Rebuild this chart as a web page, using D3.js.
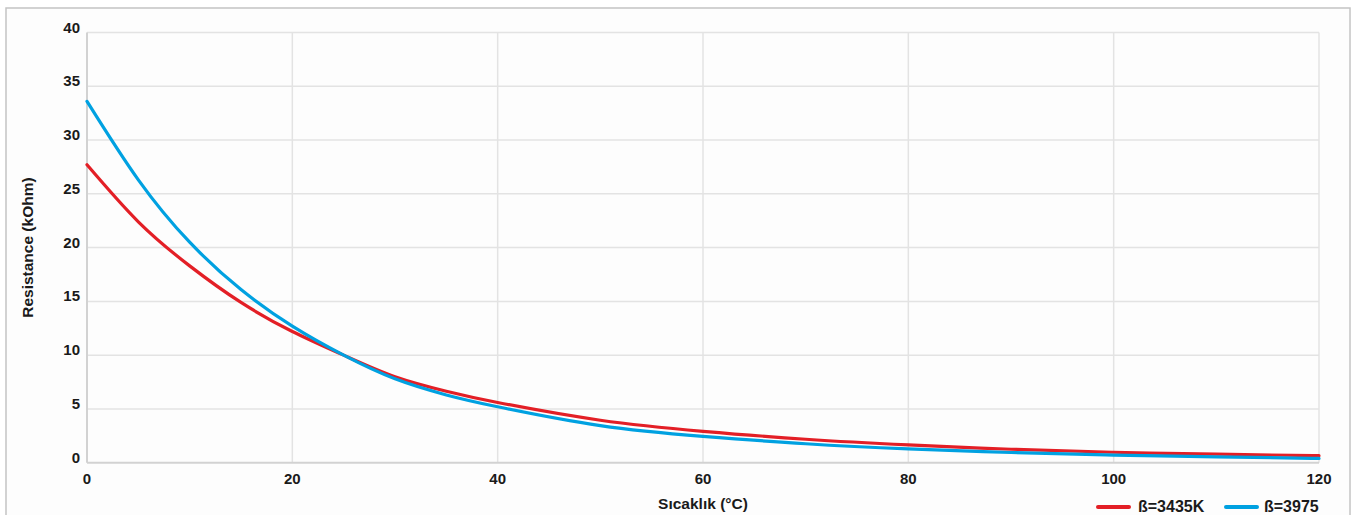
<!DOCTYPE html>
<html><head><meta charset="utf-8">
<script src="https://cdn.jsdelivr.net/npm/d3@7"></script>
<style>
html,body{margin:0;padding:0;background:#fff;}
svg{display:block;font-family:"Liberation Sans",Arial,sans-serif;}
</style></head>
<body><svg id="c" width="1355" height="515"></svg>
<script>
const temps = [0,5,10,15,20,25,30,35,40,50,60,70,80,90,100,110,120];
const beta3435 = [27.7,22.4,18.3,14.9,12.2,10.0,8.0,6.65,5.6,3.95,2.92,2.18,1.65,1.25,0.97,0.79,0.65];
const beta3975 = [33.6,26.3,20.5,16.1,12.7,10.0,7.8,6.3,5.2,3.45,2.45,1.76,1.28,0.95,0.71,0.54,0.40];
const xTicks = [0,20,40,60,80,100,120];
const yTicks = [0,5,10,15,20,25,30,35,40];
const seriesNames = ["ß=3435K","ß=3975"];
const seriesColors = ["#e31f26","#00a1e1"];
const xTitle = "Sıcaklık (°C)";
const yTitle = "Resistance (kOhm)";

const svg = d3.select("#c");
const m = {l:87, r:1319, t:32.5, b:462.7};
const x = d3.scaleLinear().domain([0,120]).range([m.l,m.r]);
const y = d3.scaleLinear().domain([0,40]).range([m.b,m.t]);

// outer frame
svg.append("rect").attr("x",6).attr("y",8).attr("width",1344).attr("height",520)
  .attr("fill","#fdfdfd").attr("stroke","#c4c4c4").attr("stroke-width",1.5);

// grid
svg.append("g").selectAll("line").data(yTicks.filter(d=>d>0)).join("line")
  .attr("x1",m.l).attr("x2",m.r).attr("y1",d=>y(d)).attr("y2",d=>y(d))
  .attr("stroke","#e3e3e3").attr("stroke-width",1.5);
svg.append("g").selectAll("line").data(xTicks.filter(d=>d>0)).join("line")
  .attr("x1",d=>x(d)).attr("x2",d=>x(d)).attr("y1",m.t).attr("y2",m.b)
  .attr("stroke","#e3e3e3").attr("stroke-width",1.5);
// axis lines
svg.append("line").attr("x1",m.l).attr("x2",m.l).attr("y1",m.t).attr("y2",m.b)
  .attr("stroke","#d2d2d2").attr("stroke-width",2);
svg.append("line").attr("x1",m.l).attr("x2",m.r).attr("y1",m.b).attr("y2",m.b)
  .attr("stroke","#d2d2d2").attr("stroke-width",2);

// tick labels
svg.append("g").selectAll("text").data(yTicks).join("text")
  .attr("x",80).attr("y",d=>y(d)).attr("text-anchor","end")
  .attr("font-size",15).attr("font-weight","bold").attr("fill","#1a1a1a").text(d=>d);
svg.append("g").selectAll("text").data(xTicks).join("text")
  .attr("x",d=>x(d)).attr("y",483.5).attr("text-anchor","middle")
  .attr("font-size",15).attr("font-weight","bold").attr("fill","#1a1a1a").text(d=>d);

// titles
svg.append("text").attr("x",(m.l+m.r)/2).attr("y",509).attr("text-anchor","middle")
  .attr("font-size",15.5).attr("font-weight","bold").attr("fill","#1a1a1a").text(xTitle);
svg.append("text").attr("transform",`translate(33,${(m.t+m.b)/2}) rotate(-90)`)
  .attr("text-anchor","middle").attr("font-size",15.5).attr("font-weight","bold")
  .attr("fill","#1a1a1a").text(yTitle);

// lines
const line = d3.line().x((d,i)=>x(temps[i])).y(d=>y(d)).curve(d3.curveNatural);
[beta3435,beta3975].forEach((s,k)=>{
  svg.append("path").datum(s).attr("d",line).attr("fill","none")
    .attr("stroke",seriesColors[k]).attr("stroke-width",3.2).attr("stroke-linecap","round");
});

// legend
const lg = [{x1:1098,tx:1138},{x1:1226,tx:1264}];
lg.forEach((p,k)=>{
  svg.append("line").attr("x1",p.x1).attr("x2",p.x1+31).attr("y1",507).attr("y2",507)
    .attr("stroke",seriesColors[k]).attr("stroke-width",4).attr("stroke-linecap","round");
  svg.append("text").attr("x",p.tx).attr("y",512).attr("font-size",16).attr("font-weight","bold")
    .attr("fill","#1a1a1a").text(seriesNames[k]);
});
</script></body></html>
